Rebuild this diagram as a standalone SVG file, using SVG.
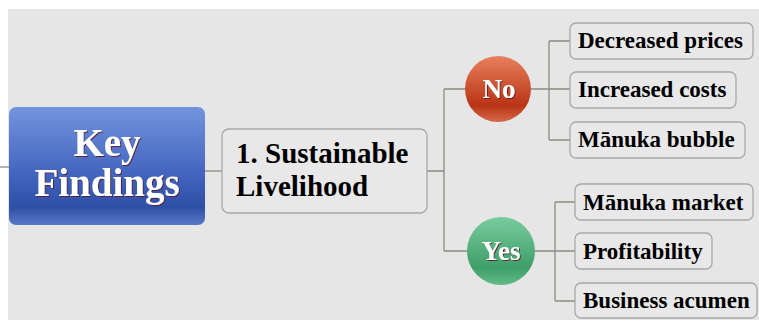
<svg xmlns="http://www.w3.org/2000/svg" width="759" height="323" viewBox="0 0 759 323">
  <defs>
    <linearGradient id="gBlue" x1="0" y1="0" x2="0" y2="1">
      <stop offset="0" stop-color="#7394dc"/>
      <stop offset="0.55" stop-color="#4466c0"/>
      <stop offset="0.85" stop-color="#2e4fa6"/>
      <stop offset="1" stop-color="#5a78c8"/>
    </linearGradient>
    <linearGradient id="gRed" x1="0" y1="0" x2="0" y2="1">
      <stop offset="0" stop-color="#e8805e"/>
      <stop offset="0.75" stop-color="#b93414"/>
      <stop offset="1" stop-color="#d56a4c"/>
    </linearGradient>
    <linearGradient id="gGreen" x1="0" y1="0" x2="0" y2="1">
      <stop offset="0" stop-color="#78cc9e"/>
      <stop offset="0.75" stop-color="#3f9e68"/>
      <stop offset="1" stop-color="#62bb88"/>
    </linearGradient>
    <filter id="shadow" x="-5%" y="-5%" width="110%" height="110%">
      <feDropShadow dx="1" dy="1" stdDeviation="0.4" flood-color="#5a1020" flood-opacity="0.8"/>
    </filter>
  </defs>
  <style>
    .bg { fill: #e6e6e6; }
    .wire { fill: none; stroke: #8c8c80; stroke-width: 1.3; }
    .leaf { fill: #e8e8e8; stroke: #a8a8a8; stroke-width: 1.3; }
    .leafText { font-family: "Liberation Serif", "Times New Roman", serif; font-weight: bold; font-size: 23px; fill: #000; }
    .mainText { font-family: "Liberation Serif", "Times New Roman", serif; font-weight: bold; font-size: 29px; fill: #000; }
    .rootText { font-family: "Liberation Serif", "Times New Roman", serif; font-weight: bold; font-size: 39px; fill: #fff; text-anchor: middle; }
    .badgeText { font-family: "Liberation Serif", "Times New Roman", serif; font-weight: bold; font-size: 27px; fill: #fff; text-anchor: middle; }
  </style>

  <rect x="0" y="0" width="759" height="323" fill="#ffffff"/>
  <rect class="bg" x="8" y="9" width="751" height="311"/>

  <!-- connectors -->
  <g id="connectors">
    <path class="wire" d="M0 167 H9"/>
    <path class="wire" d="M205 171 H222"/>
    <path class="wire" d="M427 171 H444 M444 89 V251 M444 89 H466 M444 251 H467"/>
    <path class="wire" d="M531 89 H549 M549 41 V140 M549 41 H570 M549 89 H570 M549 140 H570"/>
    <path class="wire" d="M535 251 H555 M555 202 V301 M555 202 H575 M555 251 H575 M555 301 H575"/>
  </g>

  <g id="root">
    <rect x="9" y="107" width="196" height="118" rx="7" fill="url(#gBlue)"/>
    <text class="rootText" x="107" y="156" filter="url(#shadow)">Key</text>
    <text class="rootText" x="107" y="196" filter="url(#shadow)">Findings</text>
  </g>

  <g id="livelihood">
    <rect class="leaf" x="222" y="129" width="205" height="84" rx="7"/>
    <text class="mainText" x="236" y="163">1. Sustainable</text>
    <text class="mainText" x="236" y="196">Livelihood</text>
  </g>

  <g id="no">
    <circle cx="498" cy="89" r="33" fill="url(#gRed)"/>
    <text class="badgeText" x="499" y="98" font-size="28" filter="url(#shadow)">No</text>
  </g>

  <g id="yes">
    <circle cx="501" cy="251" r="34" fill="url(#gGreen)"/>
    <text class="badgeText" x="501" y="260" font-size="26" filter="url(#shadow)">Yes</text>
  </g>

  <g id="decreased-prices">
    <rect class="leaf" x="570" y="23" width="183" height="36" rx="6"/>
    <text class="leafText" x="578" y="48">Decreased prices</text>
  </g>
  <g id="increased-costs">
    <rect class="leaf" x="570" y="72" width="166" height="36" rx="6"/>
    <text class="leafText" x="578" y="97">Increased costs</text>
  </g>
  <g id="manuka-bubble">
    <rect class="leaf" x="570" y="122" width="175" height="36" rx="6"/>
    <text class="leafText" x="578" y="147">Mānuka bubble</text>
  </g>

  <g id="manuka-market">
    <rect class="leaf" x="575" y="184" width="178" height="36" rx="6"/>
    <text class="leafText" x="583" y="210">Mānuka market</text>
  </g>
  <g id="profitability">
    <rect class="leaf" x="575" y="233" width="137" height="36" rx="6"/>
    <text class="leafText" x="583" y="259">Profitability</text>
  </g>
  <g id="business-acumen">
    <rect class="leaf" x="575" y="283" width="182" height="35" rx="6"/>
    <text class="leafText" x="583" y="308">Business acumen</text>
  </g>
</svg>
